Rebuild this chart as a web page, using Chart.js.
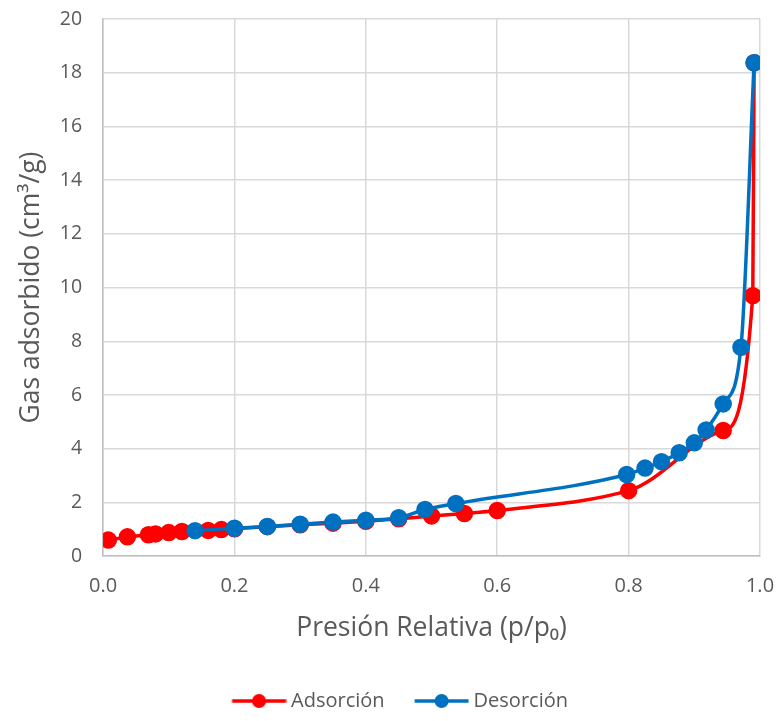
<!DOCTYPE html>
<html>
<head>
<meta charset="utf-8">
<script src="https://cdn.jsdelivr.net/npm/chart.js@4/dist/chart.umd.min.js"></script>
<style>
    html, body { margin: 0; padding: 0; background: #fff; }
    #wrap { width: 780px; height: 721px; position: relative; }
</style>
</head>
<body>
<div id="wrap"><canvas id="isoChart"></canvas></div>
<script>
// Adsorción branch
const adsP = [0.008, 0.037, 0.069, 0.080, 0.100, 0.120, 0.160, 0.180, 0.200, 0.250, 0.300, 0.350, 0.400, 0.450, 0.500, 0.550, 0.600, 0.800, 0.944, 0.989, 0.991];
const adsV = [0.60, 0.72, 0.80, 0.83, 0.88, 0.92, 0.96, 0.99, 1.02, 1.10, 1.17, 1.23, 1.30, 1.39, 1.50, 1.59, 1.70, 2.44, 4.68, 9.70, 18.37];

// Desorción branch
const desP = [0.991, 0.971, 0.944, 0.918, 0.900, 0.877, 0.850, 0.825, 0.797, 0.537, 0.490, 0.450, 0.400, 0.350, 0.300, 0.250, 0.200, 0.140];
const desV = [18.37, 7.78, 5.67, 4.70, 4.22, 3.85, 3.52, 3.28, 3.04, 1.96, 1.74, 1.43, 1.34, 1.27, 1.19, 1.11, 1.04, 0.95];

const xTicks = [0, 0.2, 0.4, 0.6, 0.8, 1.0];
const yTicks = [0, 2, 4, 6, 8, 10, 12, 14, 16, 18, 20];

const toPoints = (xs, ys) => xs.map((x, i) => ({ x: x, y: ys[i] }));

// legend marker: short line with a dot, like the Excel legend
// (blank space on the left widens the gap between the two legend items)
function legendMarker(color) {
    const c = document.createElement("canvas");
    c.width = 84; c.height = 16;
    const g = c.getContext("2d");
    g.strokeStyle = color;
    g.lineWidth = 3.5;
    g.beginPath(); g.moveTo(29.5, 8); g.lineTo(83.5, 8); g.stroke();
    g.fillStyle = color;
    g.beginPath(); g.arc(56.5, 8, 7, 0, Math.PI * 2); g.fill();
    return c;
}

// let the layout padding alone decide the plot edges
const noEdgePadding = scale => {
    scale.paddingTop = 0; scale.paddingBottom = 0;
    scale.paddingLeft = 0; scale.paddingRight = 0;
};

const font = "'Open Sans', sans-serif";
const textColor = "#595959";

new Chart(document.getElementById("isoChart"), {
    type: "scatter",
    data: {
        datasets: [
            {
                label: "Adsorción",
                data: toPoints(adsP, adsV),
                showLine: true,
                borderColor: "#FF0000",
                backgroundColor: "#FF0000",
                borderWidth: 3.5,
                pointRadius: 7,
                pointHoverRadius: 7,
                cubicInterpolationMode: "monotone",
                order: 2
            },
            {
                label: "Desorción",
                data: toPoints(desP, desV),
                showLine: true,
                borderColor: "#0070C0",
                backgroundColor: "#0070C0",
                borderWidth: 3.5,
                pointRadius: 7,
                pointHoverRadius: 7,
                cubicInterpolationMode: "monotone",
                order: 1
            }
        ]
    },
    options: {
        responsive: true,
        maintainAspectRatio: false,
        animation: false,
        layout: { padding: { left: 16, right: 20, top: 19, bottom: 0 } },
        scales: {
            x: {
                type: "linear",
                min: 0, max: 1,
                afterBuildTicks: axis => { axis.ticks = xTicks.map(v => ({ value: v })); },
                afterFit: noEdgePadding,
                ticks: {
                    color: textColor,
                    font: { family: font, size: 20 },
                    padding: 18,
                    callback: v => v.toFixed(1)
                },
                grid: { color: "#D9D9D9", lineWidth: 1.5, drawTicks: false },
                border: { color: "#BFBFBF", width: 1.5 },
                title: {
                    display: true,
                    text: "Presión Relativa (p/p\u2080)",
                    color: textColor,
                    font: { family: font, size: 26.5 },
                    padding: { top: -4, bottom: 41 }
                }
            },
            y: {
                min: 0, max: 20,
                afterBuildTicks: axis => { axis.ticks = yTicks.map(v => ({ value: v })); },
                afterFit: noEdgePadding,
                ticks: {
                    color: textColor,
                    font: { family: font, size: 19.5 },
                    padding: 21
                },
                grid: { color: "#D9D9D9", lineWidth: 1.5, drawTicks: false },
                border: { color: "#BFBFBF", width: 1.5 },
                title: {
                    display: true,
                    text: "Gas adsorbido (cm\u00B3/g)",
                    color: textColor,
                    font: { family: font, size: 26.5 },
                    padding: { top: 0, bottom: -9 }
                }
            }
        },
        plugins: {
            tooltip: { enabled: false },
            legend: {
                position: "bottom",
                labels: {
                    color: textColor,
                    font: { family: font, size: 20 },
                    usePointStyle: true,
                    pointStyleWidth: 73,
                    padding: 6,
                    generateLabels: chart => chart.data.datasets.map((ds, i) => ({
                        text: ds.label,
                        fontColor: textColor,
                        pointStyle: legendMarker(ds.borderColor),
                        datasetIndex: i,
                        lineWidth: 0,
                        strokeStyle: "transparent",
                        fillStyle: "transparent"
                    }))
                }
            }
        }
    }
});
</script>
</body>
</html>
